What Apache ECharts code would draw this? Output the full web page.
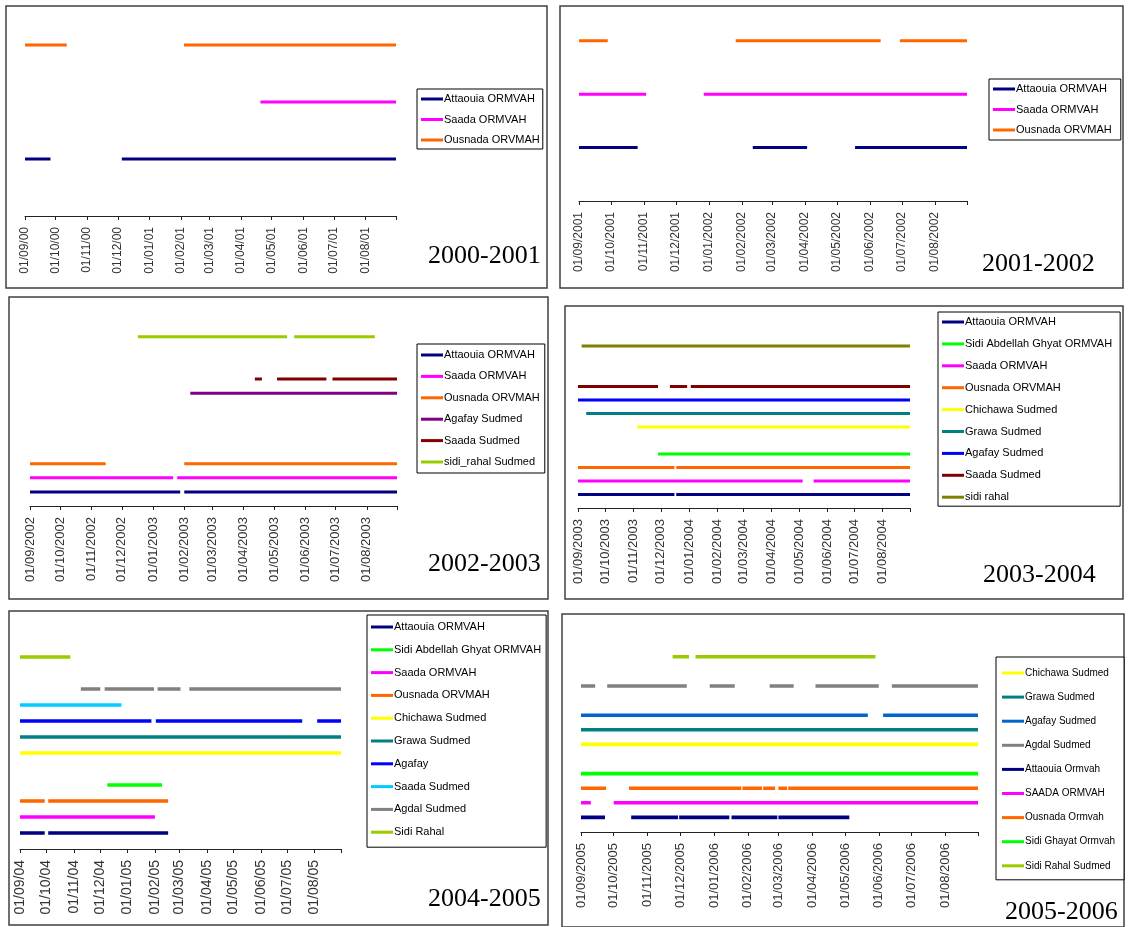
<!DOCTYPE html>
<html><head><meta charset="utf-8">
<script src="https://cdn.jsdelivr.net/npm/echarts@6/dist/echarts.min.js"></script>
<style>html,body{margin:0;padding:0;background:#fff}#c{width:1128px;height:927px}</style>
</head><body><div id="c"></div>
<script>
// ================= DATA =================
const panelTitles = ['2000-2001','2001-2002','2002-2003','2003-2004','2004-2005','2005-2006'];

const p1Range = ['2000-09-01','2001-08-31'];
const p2Range = ['2001-09-01','2002-08-31'];
const p3Range = ['2002-09-01','2003-08-31'];
const p4Range = ['2003-09-01','2004-08-31'];
const p5Range = ['2004-09-01','2005-08-31'];
const p6Range = ['2005-09-01','2006-08-31'];

const p1Labels = ['01/09/00','01/10/00','01/11/00','01/12/00','01/01/01','01/02/01','01/03/01','01/04/01','01/05/01','01/06/01','01/07/01','01/08/01'];
const p2Labels = ['01/09/2001','01/10/2001','01/11/2001','01/12/2001','01/01/2002','01/02/2002','01/03/2002','01/04/2002','01/05/2002','01/06/2002','01/07/2002','01/08/2002'];
const p3Labels = ['01/09/2002','01/10/2002','01/11/2002','01/12/2002','01/01/2003','01/02/2003','01/03/2003','01/04/2003','01/05/2003','01/06/2003','01/07/2003','01/08/2003'];
const p4Labels = ['01/09/2003','01/10/2003','01/11/2003','01/12/2003','01/01/2004','01/02/2004','01/03/2004','01/04/2004','01/05/2004','01/06/2004','01/07/2004','01/08/2004'];
const p5Labels = ['01/09/04','01/10/04','01/11/04','01/12/04','01/01/05','01/02/05','01/03/05','01/04/05','01/05/05','01/06/05','01/07/05','01/08/05'];
const p6Labels = ['01/09/2005','01/10/2005','01/11/2005','01/12/2005','01/01/2006','01/02/2006','01/03/2006','01/04/2006','01/05/2006','01/06/2006','01/07/2006','01/08/2006'];

// [series name, level (y value), [[start, end], ...]]
const p1Series = [
  ['Attaouia ORMVAH', 1, [['2000-09-01','2000-09-26'],['2000-12-05','2001-08-31']]],
  ['Saada ORMVAH', 2, [['2001-04-20','2001-08-31']]],
  ['Ousnada ORVMAH', 3, [['2000-09-01','2000-10-12'],['2001-02-04','2001-08-31']]]
];
const p2Series = [
  ['Attaouia ORMVAH', 1, [['2001-09-01','2001-10-26'],['2002-02-11','2002-04-03'],['2002-05-18','2002-08-31']]],
  ['Saada ORMVAH', 2, [['2001-09-01','2001-11-03'],['2001-12-27','2002-08-31']]],
  ['Ousnada ORVMAH', 3, [['2001-09-01','2001-09-28'],['2002-01-26','2002-06-11'],['2002-06-29','2002-08-31']]]
];
const p3Series = [
  ['Attaouia ORMVAH', 1, [['2002-09-01','2003-01-28'],['2003-02-01','2003-08-31']]],
  ['Saada ORMVAH', 2, [['2002-09-01','2003-01-21'],['2003-01-25','2003-08-31']]],
  ['Ousnada ORVMAH', 3, [['2002-09-01','2002-11-15'],['2003-02-01','2003-08-31']]],
  ['Agafay Sudmed', 8, [['2003-02-07','2003-08-31']]],
  ['Saada Sudmed', 9, [['2003-04-12','2003-04-19'],['2003-05-04','2003-06-22'],['2003-06-28','2003-08-31']]],
  ['sidi_rahal Sudmed', 12, [['2002-12-17','2003-05-14'],['2003-05-21','2003-08-09']]]
];
const p4Series = [
  ['Attaouia ORMVAH', 1, [['2003-09-01','2003-12-16'],['2003-12-18','2004-08-31']]],
  ['Sidi Abdellah Ghyat ORMVAH', 4, [['2003-11-28','2004-08-31']]],
  ['Saada ORMVAH', 2, [['2003-09-01','2004-05-05'],['2004-05-17','2004-08-31']]],
  ['Ousnada ORVMAH', 3, [['2003-09-01','2003-12-16'],['2003-12-18','2004-08-31']]],
  ['Chichawa Sudmed', 6, [['2003-11-05','2004-08-31']]],
  ['Grawa Sudmed', 7, [['2003-09-10','2004-08-31']]],
  ['Agafay Sudmed', 8, [['2003-09-01','2004-08-31']]],
  ['Saada Sudmed', 9, [['2003-09-01','2003-11-28'],['2003-12-11','2003-12-30'],['2004-01-03','2004-08-31']]],
  ['sidi rahal', 12, [['2003-09-05','2004-08-31']]]
];
const p5Series = [
  ['Attaouia ORMVAH', 1, [['2004-09-01','2004-09-29'],['2004-10-03','2005-02-16']]],
  ['Sidi Abdellah Ghyat ORMVAH', 4, [['2004-12-09','2005-02-09']]],
  ['Saada ORMVAH', 2, [['2004-09-01','2005-02-01']]],
  ['Ousnada ORVMAH', 3, [['2004-09-01','2004-09-29'],['2004-10-03','2005-02-16']]],
  ['Chichawa Sudmed', 6, [['2004-09-01','2005-08-31']]],
  ['Grawa Sudmed', 7, [['2004-09-01','2005-08-31']]],
  ['Agafay', 8, [['2004-09-01','2005-01-28'],['2005-02-02','2005-07-18'],['2005-08-04','2005-08-31']]],
  ['Saada Sudmed', 9, [['2004-09-01','2004-12-25']]],
  ['Agdal Sudmed', 10, [['2004-11-09','2004-12-01'],['2004-12-06','2005-01-31'],['2005-02-04','2005-03-02'],['2005-03-12','2005-08-31']]],
  ['Sidi Rahal', 12, [['2004-09-01','2004-10-28']]]
];
const p6Series = [
  ['Chichawa Sudmed', 6, [['2005-09-01','2006-08-31']]],
  ['Grawa Sudmed', 7, [['2005-09-01','2006-08-31']]],
  ['Agafay Sudmed', 8, [['2005-09-01','2006-05-22'],['2006-06-05','2006-08-31']]],
  ['Agdal Sudmed', 10, [['2005-09-01','2005-09-14'],['2005-09-25','2005-12-07'],['2005-12-28','2006-01-20'],['2006-02-21','2006-03-15'],['2006-04-04','2006-06-01'],['2006-06-13','2006-08-31']]],
  ['Attaouia Ormvah', 1, [['2005-09-01','2005-09-23'],['2005-10-17','2005-11-29'],['2005-11-30','2006-01-15'],['2006-01-17','2006-02-28'],['2006-03-01','2006-05-05']]],
  ['SAADA ORMVAH', 2, [['2005-09-01','2005-09-10'],['2005-10-01','2006-08-31']]],
  ['Ousnada Ormvah', 3, [['2005-09-01','2005-09-24'],['2005-10-15','2006-01-26'],['2006-01-27','2006-02-14'],['2006-02-15','2006-02-26'],['2006-03-01','2006-03-09'],['2006-03-10','2006-08-31']]],
  ['Sidi Ghayat Ormvah', 4, [['2005-09-01','2006-08-31']]],
  ['Sidi Rahal Sudmed', 12, [['2005-11-24','2005-12-09'],['2005-12-15','2006-05-29']]]
];

// ================= STYLES (colours per series, in legend order) =================
const p1Colors = ['#000080','#FF00FF','#FF6600'];
const p2Colors = ['#000080','#FF00FF','#FF6600'];
const p3Colors = ['#000080','#FF00FF','#FF6600','#800080','#800000','#99CC00'];
const p4Colors = ['#000080','#00FF00','#FF00FF','#FF6600','#FFFF00','#008080','#0000FF','#800000','#808000'];
const p5Colors = ['#000080','#00FF00','#FF00FF','#FF6600','#FFFF00','#008080','#0000FF','#00CCFF','#808080','#99CC00'];
const p6Colors = ['#FFFF00','#008080','#0066CC','#808080','#000080','#FF00FF','#FF6600','#00FF00','#99CC00'];

// ================= LAYOUT =================
const panels = [
  {range:p1Range, labels:p1Labels, series:p1Series, colors:p1Colors, lw:3,
   box:[6,6,541,282], gridLeft:25, gridWidth:371, axisY:216, unit:57, maxLv:3.5, labelSize:12,
   legend:{left:417, top:89, pad:[3,3,2,4], gap:6.5, font:11}, title:[428,256]},
  {range:p2Range, labels:p2Labels, series:p2Series, colors:p2Colors, lw:3,
   box:[560,6,563,282], gridLeft:579, gridWidth:388, axisY:201, unit:53.4, maxLv:3.5, labelSize:12,
   legend:{left:989, top:79, pad:[3,9,3,4], gap:6.5, font:11}, title:[982,264]},
  {range:p3Range, labels:p3Labels, series:p3Series, colors:p3Colors, lw:3,
   box:[9,297,539,302], gridLeft:30, gridWidth:367, axisY:506, unit:14.1, maxLv:14, labelSize:13,
   legend:{left:417, top:344, pad:[4,5,4,4], gap:7.4, font:11}, title:[428,564]},
  {range:p4Range, labels:p4Labels, series:p4Series, colors:p4Colors, lw:3,
   box:[565,306,558,293], gridLeft:578, gridWidth:332, axisY:508, unit:13.5, maxLv:14, labelSize:13,
   legend:{left:938, top:312, pad:[3,8,2,4], gap:7.9, font:11}, title:[983,575]},
  {range:p5Range, labels:p5Labels, series:p5Series, colors:p5Colors, lw:3.6,
   box:[9,611,539,314], gridLeft:20, gridWidth:321, axisY:849, unit:16, maxLv:13.5, labelSize:14,
   legend:{left:367, top:615, pad:[5,5,8,4], gap:8.8, font:11}, title:[428,899]},
  {range:p6Range, labels:p6Labels, series:p6Series, colors:p6Colors, lw:3.6,
   box:[562,614,562,313], gridLeft:581, gridWidth:397, axisY:832, unit:14.6, maxLv:13.5, labelSize:13,
   legend:{left:996, top:657, pad:[9,9,7,6], gap:10.1, font:10}, title:[1005,912]}
];

// ================= BUILD =================
function ts(s){ const [y,m,d] = s.split('-').map(Number); return Date.UTC(y, m-1, d); }
function labelTs(l){ const [d,m,y] = l.split('/').map(Number); return Date.UTC(y < 100 ? 2000 + y : y, m-1, d); }
function segData(segs, level){
  const out = [];
  segs.forEach((s, i) => {
    if (i > 0) out.push([(ts(segs[i-1][1]) + ts(s[0])) / 2, null]);
    out.push([ts(s[0]), level], [ts(s[1]), level]);
  });
  return out;
}

const grid = [], xAxis = [], yAxis = [], series = [], legend = [], graphic = [];
panels.forEach((p, i) => {
  const tickVals = p.labels.map(labelTs);
  const labelMap = {};
  p.labels.forEach((l, k) => { labelMap[tickVals[k]] = l; });
  const xmin = ts(p.range[0]), xmax = ts(p.range[1]);
  const h = p.unit * p.maxLv;
  grid.push({left:p.gridLeft, width:p.gridWidth, top:p.axisY - h, height:h, outerBoundsMode:'none', containLabel:false});
  xAxis.push({
    type:'value', gridIndex:i, min:xmin, max:xmax,
    axisLine:{show:true, onZero:false, lineStyle:{color:'#222', width:1}},
    axisTick:{show:true, length:4, lineStyle:{color:'#222'}, customValues: tickVals.concat([xmax])},
    axisLabel:{show:true, rotate:90, margin:11, color:'#333', fontFamily:'Liberation Sans', fontSize:p.labelSize,
      customValues: tickVals, formatter: v => labelMap[v] || ''},
    splitLine:{show:false}
  });
  yAxis.push({type:'value', gridIndex:i, min:0, max:p.maxLv, show:false, splitLine:{show:false}});
  const names = [];
  p.series.forEach((s, k) => {
    const nm = s[0] + '#' + i;
    names.push(nm);
    series.push({
      type:'line', name:nm, xAxisIndex:i, yAxisIndex:i,
      data: segData(s[2], s[1]),
      symbol:'none', showSymbol:false, connectNulls:false, silent:true,
      color: p.colors[k],
      itemStyle:{color:p.colors[k]},
      lineStyle:{color:p.colors[k], width:p.lw, cap:'butt'},
      z: 2
    });
  });
  legend.push({
    data: names, orient:'vertical', left:p.legend.left, top:p.legend.top,
    padding:p.legend.pad, itemGap:p.legend.gap, itemWidth:22, itemHeight:3, icon:'rect',
    borderColor:'#000', borderWidth:1, backgroundColor:'#fff', selectedMode:false,
    formatter: n => n.split('#')[0],
    textStyle:{fontFamily:'Liberation Sans', fontSize:p.legend.font, color:'#000', lineHeight:14, padding:[0,0,0,-4]}
  });
  graphic.push({type:'rect', silent:true, z:-10,
    shape:{x:p.box[0], y:p.box[1], width:p.box[2], height:p.box[3]},
    style:{fill:'none', stroke:'#404040', lineWidth:1.5}});
  graphic.push({type:'text', silent:true, x:p.title[0], y:p.title[1],
    style:{text:panelTitles[i], fill:'#000', font:'26px "Liberation Serif", "Times New Roman", serif',
      verticalAlign:'middle', textVerticalAlign:'middle'}});
});

const chart = echarts.init(document.getElementById('c'), null, {renderer:'canvas'});
chart.setOption({
  animation:false, backgroundColor:'#fff',
  grid, xAxis, yAxis, series, legend, graphic
});
</script>
</body></html>
